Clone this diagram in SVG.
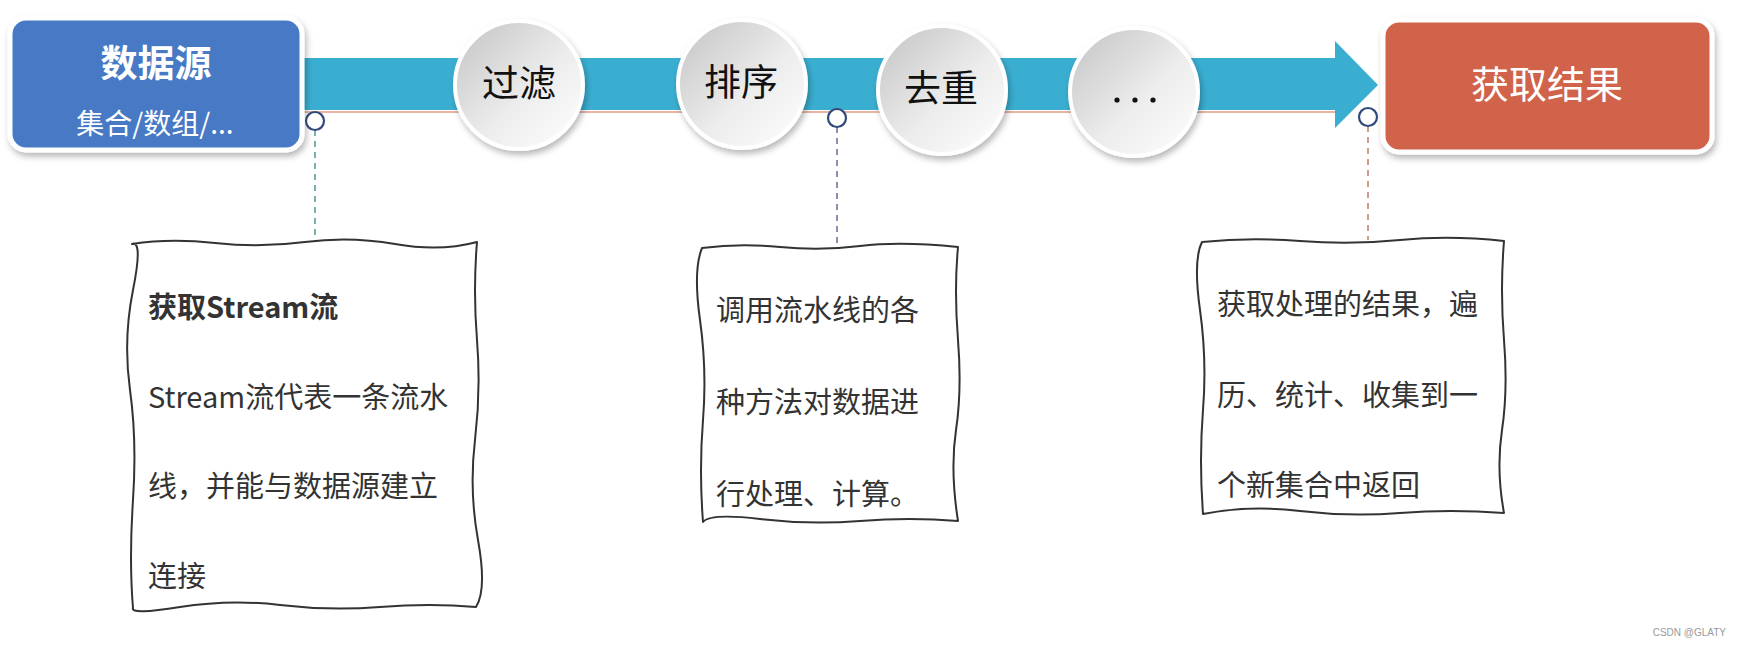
<svg xmlns="http://www.w3.org/2000/svg" width="1742" height="647" viewBox="0 0 1742 647">
<defs>
<filter id="sh" x="-20%" y="-20%" width="140%" height="150%">
<feDropShadow dx="2" dy="4" stdDeviation="3" flood-color="#000" flood-opacity="0.28"/>
</filter>
<linearGradient id="cg" x1="0" y1="0" x2="1" y2="1">
<stop offset="0" stop-color="#c2c2c2"/>
<stop offset="0.55" stop-color="#ececec"/>
<stop offset="1" stop-color="#ffffff"/>
</linearGradient>
</defs>
<style>
.cjk{font-family:"Noto Sans CJK SC","Noto Sans",sans-serif}
.step{fill:url(#cg);stroke:#fff;stroke-width:4;filter:url(#sh)}
.lbl{font-size:37px;fill:#111;text-anchor:middle}
.pin{fill:#fff;stroke:#2f4a7a;stroke-width:2.2}
.note{fill:#fff;stroke:#333;stroke-width:2;stroke-linejoin:round}
.nt{font-size:29px;fill:#333}
.dash{stroke-width:1.8;stroke-dasharray:6 5;fill:none}
</style>
<rect width="1742" height="647" fill="#fff"/>

<g id="pipeline">
<line x1="300" y1="112" x2="1336" y2="112" stroke="#e8b4a4" stroke-width="2"/>
<rect x="300" y="58" width="1036" height="52" fill="#3aaed1"/>
<polygon points="1335,41 1378,85 1335,128" fill="#3aaed1"/>
</g>

<g id="source">
<rect x="10" y="18" width="292" height="132" rx="16" fill="#4779c4" stroke="#fff" stroke-width="5" filter="url(#sh)"/>
<text class="cjk" x="156" y="77" font-size="37" font-weight="bold" fill="#fff" text-anchor="middle">数据源</text>
<text class="cjk" x="155" y="134" font-size="28" fill="#fff" text-anchor="middle">集合/数组/...</text>
</g>

<g id="filter">
<circle class="step" cx="519" cy="85" r="64"/>
<text class="cjk lbl" x="519" y="97">过滤</text>
</g>
<g id="sort">
<circle class="step" cx="742" cy="84" r="64"/>
<text class="cjk lbl" x="741" y="96">排序</text>
</g>
<g id="distinct">
<circle class="step" cx="942" cy="90" r="64"/>
<text class="cjk lbl" x="941" y="102">去重</text>
</g>
<g id="more">
<circle class="step" cx="1134" cy="92" r="64"/>
<circle cx="1117" cy="100" r="2.6" fill="#111"/>
<circle cx="1135" cy="100" r="2.6" fill="#111"/>
<circle cx="1153" cy="100" r="2.6" fill="#111"/>
</g>

<g id="result">
<rect x="1383" y="20" width="329" height="132" rx="16" fill="#d0634a" stroke="#fff" stroke-width="5" filter="url(#sh)"/>
<text class="cjk" x="1547" y="98" font-size="38" fill="#fff" text-anchor="middle">获取结果</text>
</g>

<g id="connectors">
<line class="dash" x1="315" y1="130" x2="315" y2="243" stroke="#6aa9a9"/>
<line class="dash" x1="837" y1="127" x2="837" y2="247" stroke="#8a7fa8"/>
<line class="dash" x1="1368" y1="126" x2="1368" y2="240" stroke="#c99383"/>
<circle class="pin" cx="315" cy="121" r="9"/>
<circle class="pin" cx="837" cy="118" r="9"/>
<circle class="pin" cx="1368" cy="117" r="9"/>
</g>

<g id="note1">
<path class="note" d="M132,244 Q170,238 215,243 T305,242 T395,244 T477,242 Q473,290 477,340 T475,440 T478,540 T476,607 Q430,603 380,607 T280,605 T180,607 T133,608 Q129,560 133,500 T130,390 T133,290 T132,244 Z"/>
<text class="cjk nt" x="148" y="318" font-weight="bold" fill="#111">获取Stream流</text>
<text class="cjk nt" x="148" y="408">Stream流代表一条流水</text>
<text class="cjk nt" x="148" y="497">线，并能与数据源建立</text>
<text class="cjk nt" x="148" y="587">连接</text>
</g>

<g id="note2">
<path class="note" d="M702,248 Q740,243 780,247 T860,246 T958,247 Q954,290 958,340 T956,430 T958,521 Q910,517 860,521 T760,519 T703,522 Q699,470 703,420 T700,320 T702,248 Z"/>
<text class="cjk nt" x="716" y="321">调用流水线的各</text>
<text class="cjk nt" x="716" y="413">种方法对数据进</text>
<text class="cjk nt" x="716" y="505">行处理、计算。</text>
</g>

<g id="note3">
<path class="note" d="M1202,242 Q1250,237 1300,241 T1400,240 T1504,241 Q1500,290 1504,340 T1502,430 T1504,513 Q1450,509 1400,513 T1300,511 T1203,514 Q1199,460 1203,410 T1200,310 T1202,242 Z"/>
<text class="cjk nt" x="1217" y="315">获取处理的结果，遍</text>
<text class="cjk nt" x="1217" y="406">历、统计、收集到一</text>
<text class="cjk nt" x="1217" y="496">个新集合中返回</text>
</g>

<text x="1726" y="636" font-family="Liberation Sans, sans-serif" font-size="10" fill="#999" text-anchor="end">CSDN @GLATY</text>
</svg>
